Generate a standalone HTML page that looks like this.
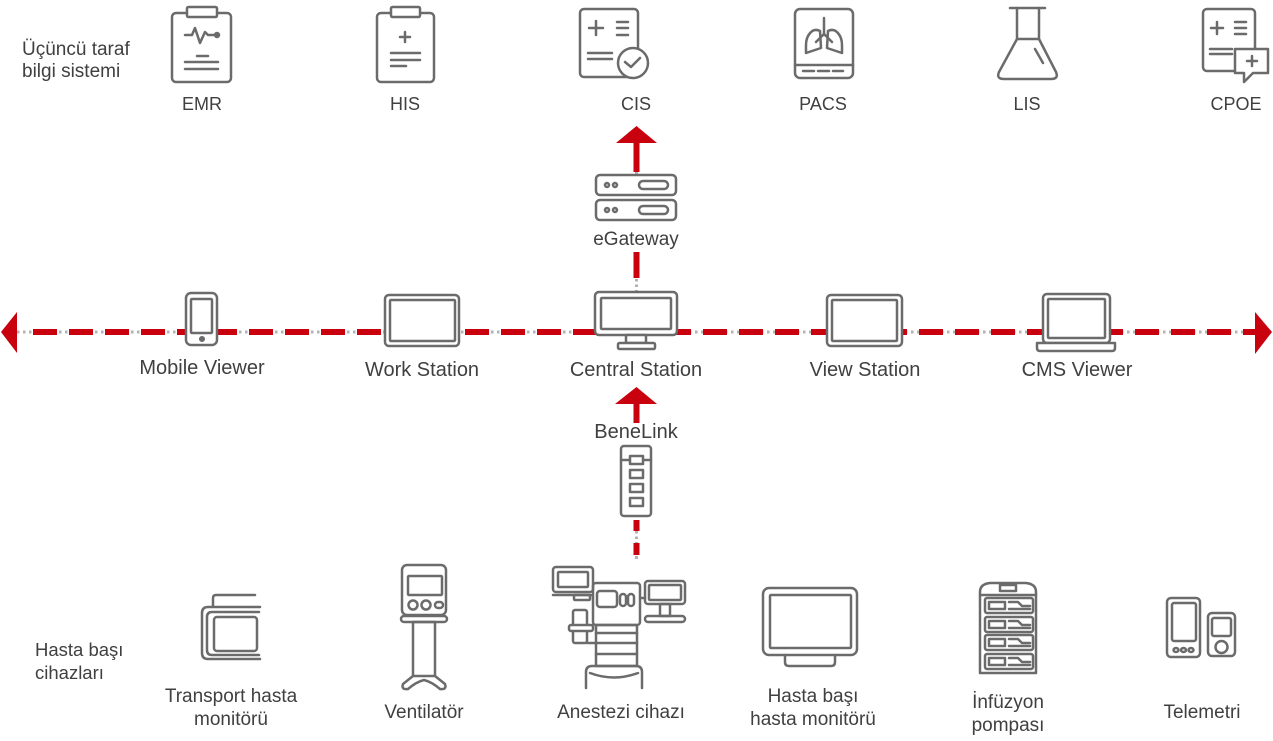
<!DOCTYPE html>
<html><head><meta charset="utf-8"><style>
html,body{margin:0;padding:0;background:#fff;}
svg{display:block;}
text{font-family:"Liberation Sans","DejaVu Sans",sans-serif;fill:#404040;}
</style></head><body>
<svg width="1273" height="741" viewBox="0 0 1273 741" xmlns="http://www.w3.org/2000/svg">
<!-- horizontal connector -->
<line x1="17" y1="332" x2="1256" y2="332" stroke="#b3b3b3" stroke-width="3" stroke-dasharray="2.5 3.5"/>
<line x1="33" y1="332" x2="597" y2="332" stroke="#c9000e" stroke-width="6" stroke-dasharray="24 12"/>
<line x1="667" y1="332" x2="1256" y2="332" stroke="#c9000e" stroke-width="6" stroke-dasharray="24 12"/>
<polygon points="1,332 17,312 17,353" fill="#c9000e"/>
<polygon points="1272,332 1255,312 1255,354" fill="#c9000e"/>

<!-- vertical: central -> eGateway -> CIS -->
<polygon points="636.5,126 616,143 657,143" fill="#c9000e"/>
<line x1="636.5" y1="142" x2="636.5" y2="172" stroke="#c9000e" stroke-width="6"/>
<line x1="636.5" y1="172" x2="636.5" y2="176" stroke="#b3b3b3" stroke-width="3" stroke-dasharray="2.5 3"/>
<line x1="636.5" y1="252" x2="636.5" y2="278" stroke="#c9000e" stroke-width="6"/>
<line x1="636.5" y1="279" x2="636.5" y2="292" stroke="#b3b3b3" stroke-width="3" stroke-dasharray="2.5 3"/>

<!-- vertical: BeneLink -> central -->
<polygon points="636.5,387 615,404 657,404" fill="#c9000e"/>
<line x1="636.5" y1="403" x2="636.5" y2="423" stroke="#c9000e" stroke-width="6"/>
<line x1="636.5" y1="531" x2="636.5" y2="543" stroke="#b3b3b3" stroke-width="3" stroke-dasharray="2.5 3"/>
<line x1="636.5" y1="520" x2="636.5" y2="531" stroke="#c9000e" stroke-width="6"/>
<line x1="636.5" y1="543" x2="636.5" y2="555" stroke="#c9000e" stroke-width="6"/>
<line x1="636.5" y1="556" x2="636.5" y2="559" stroke="#b3b3b3" stroke-width="3"/>

<g fill="none" stroke="#6b6b6b" stroke-width="2.5" stroke-linecap="round" stroke-linejoin="round">
<!-- EMR -->
<rect x="172" y="13" width="59" height="69" rx="4" fill="#fff"/>
<rect x="187" y="7" width="30" height="10" rx="1.5" fill="#fff"/>
<polyline points="185,35 192,35 195,28 200,43 205,32 208,35 217,35"/>
<circle cx="217" cy="35" r="2" fill="#6b6b6b"/>
<line x1="197" y1="56" x2="208" y2="56"/>
<line x1="185" y1="62" x2="218" y2="62"/>
<line x1="185" y1="69" x2="218" y2="69"/>
<!-- HIS -->
<rect x="377" y="13" width="57" height="69" rx="4" fill="#fff"/>
<rect x="391" y="7" width="29" height="10" rx="1.5" fill="#fff"/>
<line x1="405" y1="32" x2="405" y2="42"/><line x1="400" y1="37" x2="410" y2="37"/>
<line x1="391" y1="53" x2="420" y2="53"/>
<line x1="391" y1="60" x2="420" y2="60"/>
<line x1="391" y1="66" x2="406" y2="66"/>
<!-- CIS -->
<rect x="580" y="9" width="58" height="68" rx="4" fill="#fff"/>
<line x1="589" y1="28" x2="603" y2="28"/><line x1="596" y1="21" x2="596" y2="35"/>
<line x1="617" y1="22" x2="628" y2="22"/><line x1="617" y1="28" x2="628" y2="28"/><line x1="617" y1="35" x2="628" y2="35"/>
<line x1="588" y1="53" x2="612" y2="53"/><line x1="588" y1="59" x2="612" y2="59"/>
<circle cx="633" cy="63" r="15" fill="#fff"/>
<polyline points="625,62 631,67 640,58"/>
<!-- PACS -->
<rect x="795" y="9" width="58" height="69" rx="5" fill="#fff"/>
<line x1="795" y1="65" x2="853" y2="65"/>
<line x1="803" y1="71" x2="814" y2="71"/><line x1="818" y1="71" x2="829" y2="71"/><line x1="833" y1="71" x2="843" y2="71"/>
<line x1="824" y1="18" x2="824" y2="34"/>
<polyline points="816,42 824,34 832,42"/>
<path d="M820,31 C812,27 806,36 806,45 L806,53 L821,48 Z"/>
<path d="M828,31 C836,27 842,36 842,45 L842,53 L827,48 Z"/>
<!-- LIS -->
<line x1="1010" y1="8" x2="1045" y2="8"/>
<path d="M1017,8 L1017,39 L999,72 Q996,79 1004,79 L1051,79 Q1059,79 1056,72 L1039,39 L1039,8"/>
<line x1="1017" y1="39" x2="1039" y2="39"/>
<line x1="1035" y1="49" x2="1043" y2="63"/>
<!-- CPOE -->
<rect x="1203" y="9" width="52" height="62" rx="4" fill="#fff"/>
<line x1="1211" y1="28" x2="1223" y2="28"/><line x1="1217" y1="22" x2="1217" y2="34"/>
<line x1="1235" y1="22" x2="1246" y2="22"/><line x1="1235" y1="28" x2="1246" y2="28"/><line x1="1235" y1="34" x2="1246" y2="34"/>
<line x1="1210" y1="49" x2="1232" y2="49"/><line x1="1210" y1="54" x2="1232" y2="54"/>
<path d="M1237,49 L1268,49 L1268,73 L1253,73 L1244,82 L1244,73 L1235,73 L1235,49 Z" fill="#fff"/>
<line x1="1247" y1="61" x2="1257" y2="61"/><line x1="1252" y1="56" x2="1252" y2="66"/>

<!-- eGateway -->
<rect x="596" y="175" width="80" height="20" rx="4" fill="#fff"/>
<rect x="596" y="200" width="80" height="20" rx="4" fill="#fff"/>
<circle cx="607" cy="185" r="2"/><circle cx="615" cy="185" r="2"/>
<circle cx="607" cy="210" r="2"/><circle cx="615" cy="210" r="2"/>
<rect x="639" y="181" width="29" height="8" rx="4"/>
<rect x="639" y="206" width="29" height="8" rx="4"/>

<!-- Mobile viewer -->
<rect x="186" y="293" width="31" height="52" rx="5" fill="#fff"/>
<rect x="191" y="299" width="21" height="34" rx="1"/>
<circle cx="202" cy="339" r="1.8" fill="#6b6b6b"/>
<!-- Work station -->
<rect x="385" y="295" width="74" height="51" rx="4" fill="#fff"/>
<rect x="390" y="300" width="65" height="41" rx="1"/>
<!-- Central -->
<rect x="595" y="292" width="82" height="43" rx="4" fill="#fff"/>
<rect x="601" y="298" width="70" height="31" rx="1"/>
<rect x="626" y="335" width="20" height="8" fill="#fff"/>
<rect x="618" y="343" width="37" height="6" rx="1.5" fill="#fff"/>
<!-- View station -->
<rect x="827" y="295" width="75" height="51" rx="4" fill="#fff"/>
<rect x="832" y="300" width="65" height="41" rx="1"/>
<!-- CMS viewer laptop -->
<rect x="1043" y="294" width="67" height="49" rx="4" fill="#fff"/>
<rect x="1048" y="299" width="57" height="39" rx="1"/>
<path d="M1037,343 L1115,343 L1115,348 Q1115,351 1112,351 L1040,351 Q1037,351 1037,348 Z" fill="#fff"/>

<!-- BeneLink -->
<rect x="621" y="446" width="30" height="70" rx="3" fill="#fff"/>
<line x1="621" y1="460" x2="651" y2="460"/>
<rect x="630" y="456" width="13" height="8" fill="#fff"/>
<rect x="630" y="470" width="13" height="8"/>
<rect x="630" y="484" width="13" height="8"/>
<rect x="630" y="498" width="13" height="8"/>

<!-- Transport monitor -->
<path d="M255,595 L216,595 Q213,595 213,598 L213,606"/>
<path d="M260,607 L208,607 Q202,607 202,613 L202,653 Q202,659 208,659 L260,659"/>
<path d="M259,612 L212,612 Q207,612 207,617 L207,650 Q207,655 212,655 L259,655"/>
<rect x="214" y="617" width="43" height="34" rx="3"/>

<!-- Ventilator -->
<rect x="402" y="565" width="44" height="50" rx="5"/>
<rect x="408" y="576" width="34" height="19" rx="1"/>
<circle cx="413" cy="605" r="4.5"/><circle cx="426" cy="605" r="4.5"/>
<rect x="435" y="602" width="8" height="6" rx="3"/>
<rect x="401" y="616" width="46" height="6" rx="3"/>
<rect x="413" y="622" width="22" height="54"/>
<path d="M413,676 L403,684 Q401,690 408,689 Q416,682 424,680 Q432,682 440,689 Q447,690 445,684 L435,676"/>

<!-- Anesthesia machine -->
<rect x="553" y="567" width="40" height="25" rx="3"/>
<rect x="558" y="572" width="30" height="15" rx="1"/>
<line x1="553" y1="595" x2="591" y2="595"/>
<rect x="574" y="595" width="16" height="5" rx="1"/>
<rect x="593" y="583" width="47" height="42" rx="3"/>
<rect x="597" y="591" width="20" height="16" rx="3"/>
<rect x="620" y="594" width="6" height="12" rx="3"/>
<rect x="628" y="594" width="6" height="12" rx="3"/>
<line x1="640" y1="598" x2="645" y2="598"/>
<rect x="645" y="581" width="40" height="23" rx="3"/>
<rect x="649" y="585" width="32" height="15" rx="1"/>
<rect x="660" y="604" width="10" height="12"/>
<rect x="645" y="616" width="40" height="6" rx="3"/>
<rect x="573" y="610" width="14" height="33" rx="2"/>
<rect x="569" y="625" width="24" height="6" rx="2" fill="#fff"/>
<line x1="587" y1="643" x2="595" y2="643"/>
<rect x="596" y="625" width="41" height="41"/>
<line x1="596" y1="633" x2="637" y2="633"/>
<line x1="596" y1="643" x2="637" y2="643"/>
<line x1="596" y1="654" x2="637" y2="654"/>
<path d="M586,688 L586,672 Q586,666 592,666 L636,666 Q642,666 642,672 L642,688"/>
<path d="M590,673 Q614,682 638,673"/>

<!-- Bedside monitor -->
<rect x="763" y="588" width="94" height="67" rx="6"/>
<rect x="770" y="595" width="81" height="53" rx="1"/>
<path d="M785,655 L785,662 Q785,666 789,666 L831,666 Q835,666 835,662 L835,655"/>

<!-- Infusion pump -->
<path d="M980,673 L980,592 Q980,584 990,583 L1026,583 Q1036,584 1036,592 L1036,673 Z"/>
<line x1="980" y1="595" x2="1036" y2="595"/>
<rect x="1000" y="585" width="16" height="6"/>
<g>
<rect x="985" y="598" width="48" height="15" rx="2"/>
<rect x="989" y="602" width="16" height="7"/>
<polyline points="1009,602 1018,602 1022,606 1030,606"/>
<line x1="1009" y1="609" x2="1030" y2="609"/>
</g>
<g>
<rect x="985" y="617" width="48" height="15" rx="2"/>
<rect x="989" y="621" width="16" height="7"/>
<polyline points="1009,621 1018,621 1022,625 1030,625"/>
<line x1="1009" y1="628" x2="1030" y2="628"/>
</g>
<g>
<rect x="985" y="635" width="48" height="15" rx="2"/>
<rect x="989" y="639" width="16" height="7"/>
<polyline points="1009,639 1018,639 1022,643 1030,643"/>
<line x1="1009" y1="646" x2="1030" y2="646"/>
</g>
<g>
<rect x="985" y="654" width="48" height="15" rx="2"/>
<rect x="989" y="658" width="16" height="7"/>
<polyline points="1009,658 1018,658 1022,662 1030,662"/>
<line x1="1009" y1="665" x2="1030" y2="665"/>
</g>

<!-- Telemetry -->
<rect x="1167" y="598" width="33" height="59" rx="4"/>
<rect x="1172" y="603" width="24" height="38" rx="2"/>
<ellipse cx="1176" cy="650" rx="2.5" ry="2"/>
<ellipse cx="1183.5" cy="650" rx="2.5" ry="2"/>
<ellipse cx="1191" cy="650" rx="2.5" ry="2"/>
<rect x="1208" y="613" width="27" height="43" rx="4"/>
<rect x="1212" y="618" width="19" height="18" rx="2"/>
<circle cx="1221.5" cy="647" r="6"/>
</g>

<!-- Labels -->
<text x="22" y="55" font-size="19">Üçüncü taraf</text>
<text x="22" y="77" font-size="19">bilgi sistemi</text>
<g font-size="18" text-anchor="middle">
<text x="202" y="110">EMR</text>
<text x="405" y="110">HIS</text>
<text x="636" y="110">CIS</text>
<text x="823" y="110">PACS</text>
<text x="1027" y="110">LIS</text>
<text x="1236" y="110">CPOE</text>
</g>
<text x="636" y="245" font-size="19" text-anchor="middle">eGateway</text>
<g font-size="20" text-anchor="middle">
<text x="202" y="374">Mobile Viewer</text>
<text x="422" y="376">Work Station</text>
<text x="636" y="376">Central Station</text>
<text x="865" y="376">View Station</text>
<text x="1077" y="376">CMS Viewer</text>
<text x="636" y="438">BeneLink</text>
</g>
<text x="35" y="656" font-size="18.5">Hasta başı</text>
<text x="35" y="679" font-size="18.5">cihazları</text>
<g font-size="19" text-anchor="middle">
<text x="231" y="702">Transport hasta</text>
<text x="231" y="725">monitörü</text>
<text x="424" y="718">Ventilatör</text>
<text x="621" y="718">Anestezi cihazı</text>
<text x="813" y="702">Hasta başı</text>
<text x="813" y="725">hasta monitörü</text>
<text x="1008" y="708">İnfüzyon</text>
<text x="1008" y="731">pompası</text>
<text x="1202" y="718">Telemetri</text>
</g>
</svg>
</body></html>
